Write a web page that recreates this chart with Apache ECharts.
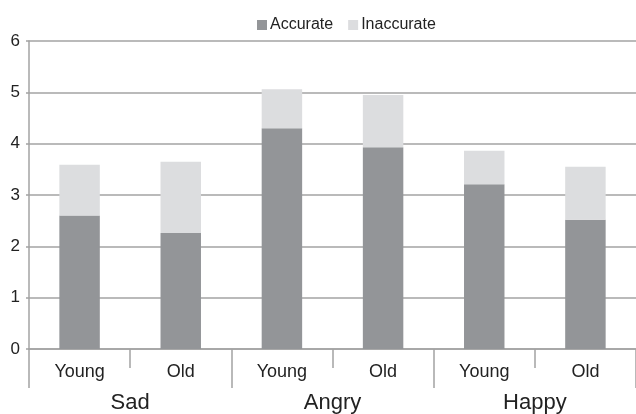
<!DOCTYPE html>
<html>
<head>
<meta charset="utf-8">
<script src="https://cdn.jsdelivr.net/npm/echarts@6/dist/echarts.min.js"></script>
<style>
  html, body { margin: 0; padding: 0; background: #fff; }
  #chart { width: 636px; height: 414px; }
</style>
</head>
<body>
<div id="chart"></div>
<script>
// 数据
var ages = ['Young', 'Old', 'Young', 'Old', 'Young', 'Old'];
var emotions = ['Sad', 'Angry', 'Happy'];
var accurate = [2.6, 2.26, 4.3, 3.93, 3.21, 2.52];
var inaccurate = [0.99, 1.39, 0.76, 1.02, 0.65, 1.03];

var font = 'Liberation Sans, Arial, sans-serif';
var lineColor = '#a3a3a3';

var mcharts = echarts.init(document.getElementById('chart'));

var option = {
    animation: false,
    textStyle: { fontFamily: font },
    legend: {
        top: 12,
        left: 252,
        itemWidth: 10,
        itemHeight: 10,
        itemGap: 15,
        icon: 'rect',
        textStyle: { fontSize: 16, color: '#222', fontFamily: font, padding: [0, 0, 0, -2] },
        data: ['Accurate', 'Inaccurate']
    },
    grid: { left: 29, right: 0, top: 41, bottom: 65 },
    xAxis: [
        {
            type: 'category',
            data: ages,
            axisLine: { lineStyle: { color: lineColor, width: 1.5 } },
            axisTick: { show: true, interval: 0, length: 19, lineStyle: { color: lineColor, width: 1.5 } },
            axisLabel: { interval: 0, fontSize: 18, color: '#222', margin: 14 }
        },
        {
            type: 'category',
            data: emotions,
            position: 'bottom',
            axisLine: { show: false },
            axisTick: { show: true, interval: 0, length: 39, lineStyle: { color: lineColor, width: 1.5 } },
            axisLabel: { interval: 0, fontSize: 22, color: '#222', margin: 43 }
        }
    ],
    yAxis: {
        type: 'value',
        min: 0,
        max: 6,
        interval: 1,
        axisLine: { show: true, lineStyle: { color: lineColor, width: 1.5 } },
        axisTick: { show: true, length: 3, lineStyle: { color: lineColor, width: 1.5 } },
        axisLabel: { fontSize: 17, color: '#222', margin: 9 },
        splitLine: { lineStyle: { color: lineColor, width: 1.5 } }
    },
    series: [
        {
            name: 'Accurate',
            type: 'bar',
            stack: 'total',
            barWidth: '40%',
            xAxisIndex: 0,
            itemStyle: { color: '#939598' },
            data: accurate
        },
        {
            name: 'Inaccurate',
            type: 'bar',
            stack: 'total',
            barWidth: '40%',
            xAxisIndex: 0,
            itemStyle: { color: '#dcdddf' },
            data: inaccurate
        }
    ]
};

mcharts.setOption(option, true);
</script>
</body>
</html>
